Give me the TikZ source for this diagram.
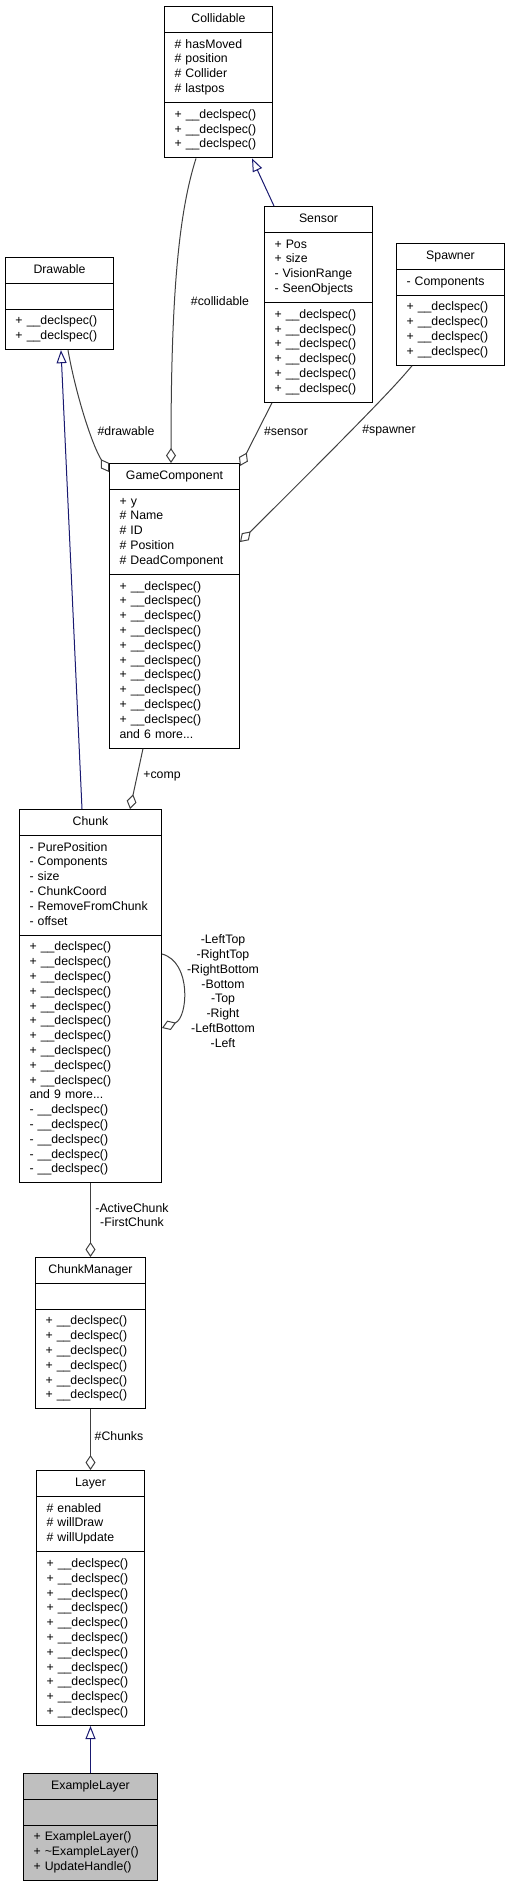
\documentclass[tikz,border=0pt]{standalone}
\usepackage{fontspec}
\setmainfont{Liberation Sans}
\usetikzlibrary{shapes.multipart,arrows.meta}
\definecolor{midnight}{RGB}{25,25,112}
\definecolor{aggrgray}{RGB}{64,64,64}
\newcommand{\decl}[1]{\strut#1 \_\_declspec()}
\newcommand{\ctitle}[1]{\strut\hfill#1\hfill\strut}
\tikzset{
    umlclass/.style={rectangle split, rectangle split parts=3, draw=black, line width=1pt,
        fill=white, anchor=north west, inner xsep=10pt, inner ysep=5pt, align=left,
        font=\fontsize{12.3}{14.8}\selectfont},
    inherit/.style={draw=midnight, line width=1pt, -{Triangle[open,length=13pt,width=10pt]}},
    aggr/.style={draw=aggrgray, line width=1pt, -{Diamond[open,length=15pt,width=10pt]}},
    lbl/.style={font=\fontsize{12.3}{14.8}\selectfont, inner sep=0pt, align=center}
}
\begin{document}
\begin{tikzpicture}[x=1pt, y=-1pt]
\useasboundingbox (0,0) rectangle (509,1884);

% classes
\node[umlclass, text width=88pt] (collidable) at (164,6) {\ctitle{Collidable}
    \nodepart{two}\strut\# hasMoved\\\strut\# position\\\strut\# Collider\\\strut\# lastpos
    \nodepart{three}\decl{+}\foreach \i in {2,3}{\\\decl{+}}};
\node[umlclass, text width=88pt] (sensor) at (264,206) {\ctitle{Sensor}
    \nodepart{two}\strut+ Pos\\\strut+ size\\\strut- VisionRange\\\strut- SeenObjects
    \nodepart{three}\decl{+}\foreach \i in {2,...,6}{\\\decl{+}}};
\node[umlclass, text width=88pt] (spawner) at (396,243) {\ctitle{Spawner}
    \nodepart{two}\strut- Components
    \nodepart{three}\decl{+}\foreach \i in {2,...,4}{\\\decl{+}}};
\node[umlclass, text width=88pt] (drawable) at (5,257) {\ctitle{Drawable}
    \nodepart{two}\strut
    \nodepart{three}\decl{+}\\\decl{+}};
\node[umlclass, text width=110pt] (gamecomp) at (109,463) {\ctitle{GameComponent}
    \nodepart{two}\strut+ y\\\strut\# Name\\\strut\# ID\\\strut\# Position\\\strut\# DeadComponent
    \nodepart{three}\decl{+}\foreach \i in {2,...,10}{\\\decl{+}}\\\strut and 6 more...};
\node[umlclass, text width=122pt] (chunk) at (19,809) {\ctitle{Chunk}
    \nodepart{two}\strut- PurePosition\\\strut- Components\\\strut- size\\\strut- ChunkCoord\\\strut- RemoveFromChunk\\\strut- offset
    \nodepart{three}\decl{+}\foreach \i in {2,...,10}{\\\decl{+}}\\\strut and 9 more...\foreach \i in {1,...,5}{\\\decl{-}}};
\node[umlclass, text width=90pt] (chunkmgr) at (35,1257) {\ctitle{ChunkManager}
    \nodepart{two}\strut
    \nodepart{three}\decl{+}\foreach \i in {2,...,6}{\\\decl{+}}};
\node[umlclass, text width=88pt] (layer) at (36,1470) {\ctitle{Layer}
    \nodepart{two}\strut\# enabled\\\strut\# willDraw\\\strut\# willUpdate
    \nodepart{three}\decl{+}\foreach \i in {2,...,11}{\\\decl{+}}};
\node[umlclass, text width=114pt, fill=gray!50] (exlayer) at (23,1773) {\ctitle{ExampleLayer}
    \nodepart{two}\strut
    \nodepart{three}\strut+ ExampleLayer()\\\strut+ \textasciitilde ExampleLayer()\\\strut+ UpdateHandle()};

% inheritance
\draw[inherit] (sensor.north -| 274,0) -- (collidable.south -| 252,0);
\draw[inherit] (chunk.north -| 82,0) -- (drawable.south -| 61,0);
\draw[inherit] (exlayer.north) -- (layer.south);

% aggregation
\draw[aggr] (collidable.south -| 196,0) .. controls (178,215) and (171,300) .. (gamecomp.north -| 171,0);
\draw[aggr] (drawable.south -| 68,0) .. controls (76,395) and (92,445) .. (gamecomp.west |- 0,472);
\draw[aggr] (sensor.south -| 272,0) -- (gamecomp.east |- 0,466);
\draw[aggr] (spawner.south -| 412,0) .. controls (400,380) and (385,398) .. (gamecomp.east |- 0,542);
\draw[aggr] (gamecomp.south -| 143,0) -- (chunk.north -| 130,0);
\draw[aggr] (chunk.east |- 0,954) .. controls (192,962) and (188,1018) .. (chunk.east |- 0,1028);
\draw[aggr] (chunk.south) -- (chunkmgr.north);
\draw[aggr] (chunkmgr.south) -- (layer.north);

% labels
\node[lbl] (lcoll) at (220,301) {\#collidable};
\node[lbl] (ldraw) at (126,431) {\#drawable};
\node[lbl] (lsens) at (286,431) {\#sensor};
\node[lbl] (lspawn) at (389,431) {\#spawner};
\node[lbl] (lcomp) at (162,776) {+comp};
\node[lbl] (lself) at (223,991) {-LeftTop\\-RightTop\\-RightBottom\\-Bottom\\-Top\\-Right\\-LeftBottom\\-Left};
\node[lbl] (lmgr) at (132,1215) {-ActiveChunk\\-FirstChunk};
\node[lbl] (llayer) at (119,1436) {\#Chunks};

\end{tikzpicture}
\end{document}
